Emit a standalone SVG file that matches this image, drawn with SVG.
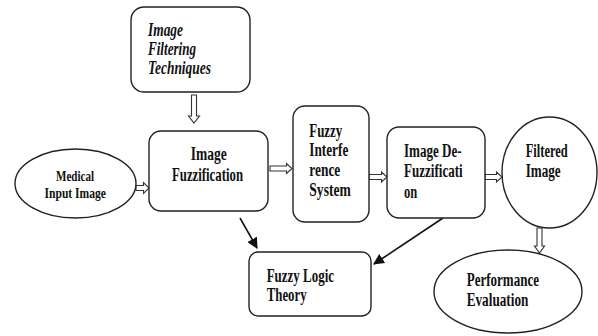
<svg xmlns="http://www.w3.org/2000/svg" width="598" height="336" viewBox="0 0 598 336">
<style>
.n{fill:#fff;stroke:#222;stroke-width:1.4}
.t{font-family:"Liberation Serif","Times New Roman",serif;font-weight:bold;font-size:18px;fill:#111}
.i{font-style:italic}
.sm{font-size:14px}
.h{fill:#fff;stroke:#333;stroke-width:1.1}
.s{stroke:#111;stroke-width:1.6;fill:none}
</style>
<defs>
<marker id="ah2" viewBox="0 0 10 10" refX="9" refY="5" markerWidth="11" markerHeight="11" markerUnits="userSpaceOnUse" orient="auto">
<path d="M0,0 L10,5 L0,10 z" fill="#111"/>
</marker>
</defs>
<rect width="598" height="336" fill="#fff"/>
<g id="connectors">
<polygon class="h" points="191.5,95 196.5,95 196.5,116 199.5,116 194,123 188.5,116 191.5,116"/>
<polygon class="h" points="136,185.5 143.5,185.5 143.5,182.5 149,188 143.5,193.5 143.5,190.5 136,190.5"/>
<polygon class="h" points="270,166 286.5,166 286.5,163.5 292,168.5 286.5,173.5 286.5,171 270,171"/>
<polygon class="h" points="369,174.5 381.5,174.5 381.5,172 387,177 381.5,182 381.5,179.5 369,179.5"/>
<polygon class="h" points="485,174.5 496.5,174.5 496.5,172 502,177 496.5,182 496.5,179.5 485,179.5"/>
<polygon class="h" points="537,228 542,228 542,246 544.5,246 539.5,253 534.5,246 537,246"/>
<line class="s" x1="240" y1="218" x2="257" y2="248" marker-end="url(#ah2)"/>
<line class="s" x1="443" y1="218" x2="374" y2="264" marker-end="url(#ah2)"/>
</g>
<g id="filtering">
<rect class="n" x="131" y="7" width="119" height="85" rx="13"/>
<text class="t i" x="148" y="36" textLength="35" lengthAdjust="spacingAndGlyphs">Image</text>
<text class="t i" x="148" y="55" textLength="48" lengthAdjust="spacingAndGlyphs">Filtering</text>
<text class="t i" x="148" y="74" textLength="63" lengthAdjust="spacingAndGlyphs">Techniques</text>
</g>
<g id="medical">
<ellipse class="n" cx="75.5" cy="183.5" rx="60.5" ry="34.5"/>
<text class="t sm" x="56" y="181" textLength="38" lengthAdjust="spacingAndGlyphs">Medical</text>
<text class="t sm" x="44.5" y="198" textLength="61.5" lengthAdjust="spacingAndGlyphs">Input Image</text>
</g>
<g id="fuzzification">
<rect class="n" x="149" y="131" width="119" height="80" rx="12"/>
<text class="t" x="190.7" y="160" textLength="36" lengthAdjust="spacingAndGlyphs">Image</text>
<text class="t" x="172" y="181" textLength="71" lengthAdjust="spacingAndGlyphs">Fuzzification</text>
</g>
<g id="fis">
<rect class="n" x="293" y="106" width="76" height="116" rx="12"/>
<text class="t" x="309.3" y="137" textLength="33" lengthAdjust="spacingAndGlyphs">Fuzzy</text>
<text class="t" x="309.3" y="156" textLength="39" lengthAdjust="spacingAndGlyphs">Interfe</text>
<text class="t" x="309.3" y="176" textLength="31" lengthAdjust="spacingAndGlyphs">rence</text>
<text class="t" x="309.3" y="196" textLength="41.5" lengthAdjust="spacingAndGlyphs">System</text>
</g>
<g id="defuzzification">
<rect class="n" x="387" y="127" width="98" height="91" rx="12"/>
<text class="t" x="404" y="157" textLength="57.7" lengthAdjust="spacingAndGlyphs">Image De-</text>
<text class="t" x="404" y="177" textLength="58.7" lengthAdjust="spacingAndGlyphs">Fuzzificati</text>
<text class="t" x="404" y="198" textLength="13.3" lengthAdjust="spacingAndGlyphs">on</text>
</g>
<g id="filtered">
<ellipse class="n" cx="549.5" cy="172.5" rx="47.5" ry="55.5"/>
<text class="t" x="525.7" y="157" textLength="42" lengthAdjust="spacingAndGlyphs">Filtered</text>
<text class="t" x="525.7" y="177" textLength="35" lengthAdjust="spacingAndGlyphs">Image</text>
</g>
<g id="fuzzylogic">
<rect class="n" x="249" y="252" width="122" height="64" rx="9"/>
<text class="t" x="266.7" y="282" textLength="67.3" lengthAdjust="spacingAndGlyphs">Fuzzy Logic</text>
<text class="t" x="266.7" y="301" textLength="40" lengthAdjust="spacingAndGlyphs">Theory</text>
</g>
<g id="performance">
<ellipse class="n" cx="508" cy="291.5" rx="74" ry="41.5"/>
<text class="t" x="466.7" y="286" textLength="72.3" lengthAdjust="spacingAndGlyphs">Performance</text>
<text class="t" x="466.7" y="306" textLength="61.7" lengthAdjust="spacingAndGlyphs">Evaluation</text>
</g>
</svg>
